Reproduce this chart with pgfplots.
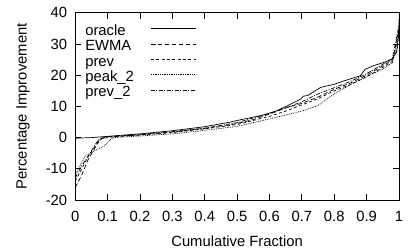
\documentclass[border=0pt]{standalone}
\usepackage{pgfplots}
\pgfplotsset{compat=1.18}
\usepackage{fontspec}
\setmainfont{Liberation Sans}
\begin{document}
\fontsize{15}{17}\selectfont
\begin{tikzpicture}
\begin{axis}[
  scale only axis, width=327bp, height=189bp,
  at={(0,0)}, anchor=south west,
  xmin=0, xmax=1, ymin=-20, ymax=40,
  xtick={0,0.1,...,1}, ytick={-20,-10,...,40},
  xticklabels={0,0.1,0.2,0.3,0.4,0.5,0.6,0.7,0.8,0.9,1},
  tick align=inside, major tick length=6bp,
  /pgf/number format/assume math mode=true,
  tick label style={font=\fontsize{15}{17}\selectfont},
  xticklabel style={yshift=-6bp},
  yticklabel style={xshift=-3bp},
  axis line style={line width=0.9bp},
  every tick/.style={line width=0.9bp, black},
  xlabel={Cumulative Fraction}, ylabel={Percentage Improvement},
  label style={font=\fontsize{15}{17}\selectfont},
  ylabel style={at={(axis description cs:-0.1498,0.5)}, anchor=base},
  xlabel style={at={(axis description cs:0.5,-0.2487)}, anchor=base},
  legend style={draw=none, fill=none, at={(axis description cs:0.0306,0.939)}, anchor=north west,
    font=\fontsize{15}{17}\selectfont, row sep=0pt, column sep=17bp, inner sep=0pt,
    nodes={inner sep=0pt, text height=10.8bp, text depth=4.8bp}},
  legend cell align=left, legend plot pos=right,
  legend image code/.code={\draw[#1] (0bp,0.25em) -- (45bp,0.25em);},
  every axis plot/.append style={line width=0.7bp, black},
]
\addplot[solid] coordinates {(0,-0.2)(0.05,0)(0.1,0.4)(0.2,1.2)(0.3,2.2)(0.4,3.5)(0.48,5)(0.5,5.5)(0.575,7.1)(0.62,8.5)(0.657,10.3)(0.69,12)(0.697,12.4)(0.705,13.3)(0.718,13.5)(0.758,16.1)(0.80,17.1)(0.83,18.2)(0.88,19.8)(0.896,21.9)(0.92,23)(0.95,24)(0.977,25)(0.993,27.5)(1.0,34)(1.0,38)};
\addlegendentry{oracle}
\addplot[dash pattern=on 4.5bp off 2.5bp] coordinates {(0,-16)(0.02,-12)(0.04,-7)(0.06,-3.5)(0.075,-0.5)(0.1,0.2)(0.2,0.9)(0.3,1.8)(0.4,3)(0.5,4.5)(0.55,5.8)(0.6,7.5)(0.65,9.5)(0.7,11)(0.75,13)(0.8,15.5)(0.85,17.5)(0.9,20)(0.95,23)(0.98,25)(0.995,28)(1,36)};
\addlegendentry{EWMA}
\addplot[dash pattern=on 3bp off 2.4bp] coordinates {(0,-14)(0.02,-10)(0.04,-6)(0.06,-3)(0.08,-0.5)(0.1,0.1)(0.2,0.8)(0.3,1.6)(0.4,2.8)(0.5,4.2)(0.6,6.8)(0.65,8.5)(0.7,10.5)(0.75,12.5)(0.8,15)(0.85,17)(0.9,19.5)(0.95,22.5)(0.98,24.5)(1,35)};
\addlegendentry{prev}
\addplot[dash pattern=on 0.8bp off 1bp] coordinates {(0,-12)(0.01,-10)(0.03,-6)(0.05,-4.7)(0.07,-3.7)(0.09,-2.7)(0.11,-0.5)(0.12,0)(0.2,0.5)(0.3,1.2)(0.4,2.3)(0.5,3.6)(0.6,6)(0.7,8.5)(0.75,10.3)(0.8,14)(0.85,17)(0.9,19.5)(0.95,22)(0.98,24)(1,33)};
\addlegendentry{peak\_2}
\addplot[dash pattern=on 4bp off 1.5bp on 1bp off 1.5bp] coordinates {(0,-13)(0.02,-9)(0.04,-6)(0.06,-2.5)(0.075,-0.3)(0.1,0.3)(0.2,1)(0.3,1.9)(0.4,3)(0.5,4.8)(0.6,7.8)(0.65,9.5)(0.7,11.5)(0.75,14)(0.8,16)(0.85,18)(0.9,20.5)(0.95,23.5)(0.98,25.5)(1,36)};
\addlegendentry{prev\_2}
\end{axis}
\useasboundingbox (-76bp,-46bp) rectangle (332bp,202bp);
\end{tikzpicture}
\end{document}
